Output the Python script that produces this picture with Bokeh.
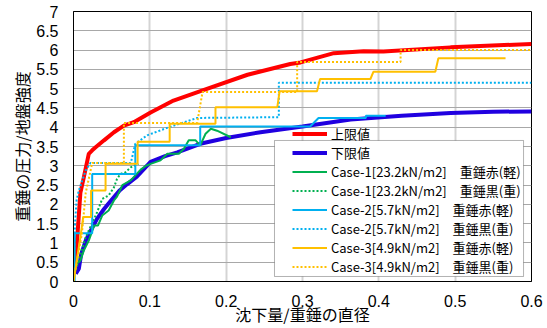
from bokeh.plotting import figure
from bokeh.models import Range1d, FixedTicker, Legend, LegendItem, BoxAnnotation
from bokeh.embed import file_html
from bokeh.resources import INLINE

# ---- data ----
upper_x = [0.0015, 0.005, 0.009, 0.0135, 0.02, 0.0245, 0.029, 0.04, 0.053, 0.066, 0.079, 0.101,
           0.131, 0.171, 0.228, 0.284, 0.2975, 0.341, 0.38, 0.406, 0.494, 0.6]
upper_y = [0.3, 1.15, 2.3, 2.7, 3.31, 3.40, 3.48, 3.66, 3.87, 4.04, 4.13, 4.38,
           4.69, 4.97, 5.36, 5.64, 5.68, 5.92, 5.97, 5.96, 6.07, 6.16]

lower_x = [0.003, 0.007, 0.01, 0.016, 0.022, 0.031, 0.04, 0.05, 0.06, 0.07, 0.083, 0.101,
           0.12, 0.136, 0.166, 0.2, 0.245, 0.3, 0.363, 0.43, 0.494, 0.55, 0.6]
lower_y = [0.2, 0.33, 0.7, 1.06, 1.3, 1.63, 1.88, 2.12, 2.35, 2.52, 2.72, 3.1,
           3.25, 3.35, 3.57, 3.72, 3.87, 4.02, 4.2, 4.3, 4.37, 4.4, 4.41]

c1_light_x = [0.004, 0.009, 0.0135, 0.02, 0.027, 0.032, 0.0376, 0.046, 0.053, 0.057, 0.064, 0.075,
              0.081, 0.088, 0.095, 0.101, 0.114, 0.123, 0.138, 0.1446, 0.151, 0.16, 0.166, 0.173,
              0.18, 0.188, 0.206]
c1_light_y = [0.46, 0.54, 0.80, 1.06, 1.45, 1.45, 1.71, 1.84, 2.1, 2.2, 2.5, 2.62,
              2.75, 2.9, 3.0, 3.05, 3.14, 3.31, 3.31, 3.44, 3.66, 3.66, 3.53, 3.83,
              3.96, 3.91, 3.74]

c1_heavy_x = [0.003, 0.009, 0.016, 0.022, 0.031, 0.0376, 0.046, 0.053, 0.057, 0.0616, 0.068, 0.075, 0.085]
c1_heavy_y = [0.3, 0.7, 1.15, 1.41, 1.80, 2.14, 2.23, 2.44, 2.66, 2.79, 2.83, 2.96, 3.05]

c2_light_x = [0.0, 0.0015, 0.0015, 0.0245, 0.0245, 0.081, 0.081, 0.166, 0.166, 0.31, 0.321, 0.383, 0.383, 0.409]
c2_light_y = [0.0, 0.0, 1.25, 1.25, 2.79, 2.79, 3.53, 3.53, 4.02, 4.02, 4.24, 4.24, 4.3, 4.3]

c2_heavy_x = [0.0, 0.002, 0.004, 0.007, 0.016, 0.022, 0.075, 0.081, 0.0965, 0.125, 0.162, 0.269, 0.269, 0.6]
c2_heavy_y = [0.0, 1.5, 2.1, 2.36, 2.88, 3.07, 3.07, 3.57, 3.79, 4.0, 4.24, 4.26, 5.15, 5.15]

c3_light_x = [0.0, 0.002, 0.005, 0.009, 0.0127, 0.023, 0.023, 0.042, 0.042, 0.084, 0.084, 0.126, 0.126,
              0.186, 0.186, 0.267, 0.27, 0.319, 0.323, 0.389, 0.393, 0.474, 0.478, 0.566]
c3_light_y = [0.0, 0.24, 0.63, 1.15, 1.67, 1.67, 2.36, 2.36, 3.05, 3.05, 3.62, 3.62, 4.09,
              4.09, 4.52, 4.52, 4.93, 4.93, 5.25, 5.25, 5.44, 5.44, 5.79, 5.79]

c3_heavy_x = [0.0, 0.003, 0.007, 0.011, 0.016, 0.0245, 0.066, 0.066, 0.162, 0.169, 0.293, 0.293,
              0.4285, 0.4285, 0.6]
c3_heavy_y = [0.0, 0.37, 0.8, 1.24, 2.3, 3.07, 3.07, 4.11, 4.11, 4.91, 4.91, 5.69,
              5.69, 6.0, 6.0]

x_ticks = [0, 0.1, 0.2, 0.3, 0.4, 0.5, 0.6]
x_tick_labels = ["0", "0.1", "0.2", "0.3", "0.4", "0.5", "0.6"]
y_ticks = [0, 0.5, 1, 1.5, 2, 2.5, 3, 3.5, 4, 4.5, 5, 5.5, 6, 6.5, 7]
y_tick_labels = ["0", "0.5", "1", "1.5", "2", "2.5", "3", "3.5", "4", "4.5", "5", "5.5", "6", "6.5", "7"]

series_labels = ["上限値", "下限値",
                 "Case-1[23.2kN/m2]\u3000重錘赤(軽)", "Case-1[23.2kN/m2]\u3000重錘黒(重)",
                 "Case-2[5.7kN/m2]\u3000重錘赤(軽)", "Case-2[5.7kN/m2]\u3000重錘黒(重)",
                 "Case-3[4.9kN/m2]\u3000重錘赤(軽)", "Case-3[4.9kN/m2]\u3000重錘黒(重)"]
x_title = "沈下量/重錘の直径"
y_title = "重錘の圧力/地盤強度"

# ---- figure ----
p = figure(width=547, height=328, x_range=Range1d(0, 0.6), y_range=Range1d(0, 7),
           output_backend="svg", toolbar_location=None, title=None,
           min_border_left=73, min_border_right=16, min_border_top=11, min_border_bottom=47)
p.background_fill_color = "white"
p.border_fill_color = "white"
p.outline_line_color = "black"
p.outline_line_width = 1

p.xaxis.ticker = FixedTicker(ticks=x_ticks)
p.yaxis.ticker = FixedTicker(ticks=y_ticks)
p.xaxis.major_label_overrides = dict(zip(x_ticks, x_tick_labels))
p.yaxis.major_label_overrides = dict(zip(y_ticks, y_tick_labels))
for ax in (p.xaxis, p.yaxis):
    ax.major_tick_in = 0
    ax.major_tick_out = 0
    ax.minor_tick_in = 0
    ax.minor_tick_out = 0
    ax.axis_line_color = "black"
    ax.major_label_text_font = "Liberation Sans"
    ax.major_label_text_font_size = "16px"
    ax.major_label_text_color = "black"
    ax.axis_label_text_font = "Noto Sans CJK JP"
    ax.axis_label_text_font_size = "16px"
    ax.axis_label_text_font_style = "normal"
    ax.axis_label_text_color = "black"
p.xaxis.axis_label = x_title
p.yaxis.axis_label = y_title
p.xaxis.major_label_standoff = 13
p.xaxis.axis_label_standoff = -8
p.yaxis.major_label_standoff = 15
p.yaxis.axis_label_standoff = -1

p.xgrid.grid_line_color = "#d4d4d4"
p.xgrid.grid_line_width = 2
p.ygrid.grid_line_color = "#a8a8a8"
p.ygrid.grid_line_width = 1

RED, BLUE, GREEN, CYAN, ORANGE = "#ff0000", "#2000e0", "#00b050", "#00b0f0", "#ffc000"
DOT = "2 2"

r_up = p.line(upper_x, upper_y, line_color=RED, line_width=4)
r_lo = p.line(lower_x, lower_y, line_color=BLUE, line_width=4)
r_c1l = p.line(c1_light_x, c1_light_y, line_color=GREEN, line_width=2)
r_c1h = p.line(c1_heavy_x, c1_heavy_y, line_color=GREEN, line_width=2, line_dash=DOT)
r_c2l = p.line(c2_light_x, c2_light_y, line_color=CYAN, line_width=2)
r_c2h = p.line(c2_heavy_x, c2_heavy_y, line_color=CYAN, line_width=2, line_dash=DOT)
r_c3l = p.line(c3_light_x, c3_light_y, line_color=ORANGE, line_width=2)
r_c3h = p.line(c3_heavy_x, c3_heavy_y, line_color=ORANGE, line_width=2, line_dash=DOT)
renderers = [r_up, r_lo, r_c1l, r_c1h, r_c2l, r_c2h, r_c3l, r_c3h]

box = BoxAnnotation(left=0.2633, right=0.5896, bottom=0.13, top=3.656,
                    fill_color="white", fill_alpha=1.0, line_color="black", line_width=1)
p.add_layout(box)

legend = Legend(items=[LegendItem(label=lab, renderers=[r]) for lab, r in zip(series_labels, renderers)],
                location=(219, 5), padding=0, spacing=0, margin=0,
                glyph_width=35, glyph_height=17, label_height=17, label_standoff=4,
                border_line_alpha=0, background_fill_alpha=0,
                label_text_font="Noto Sans CJK JP", label_text_font_size="13px",
                label_text_color="black")
p.add_layout(legend)

open("out.html", "w").write(file_html(p, INLINE))
